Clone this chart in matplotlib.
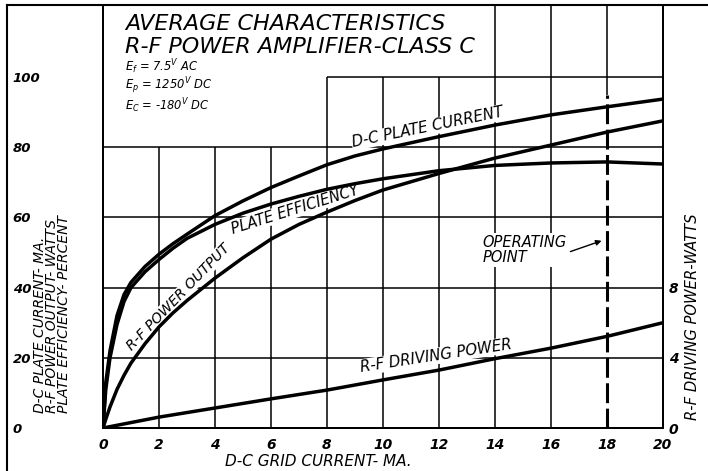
import matplotlib
matplotlib.use('Agg')
import matplotlib.pyplot as plt
from matplotlib.lines import Line2D
from matplotlib.transforms import ScaledTranslation

plt.rcParams['font.family'] = ['DejaVu Sans']
plt.rcParams['mathtext.fontset'] = 'dejavusans'

# grid current (mA) where curves were read
grid_ma = [0, 0.1, 0.25, 0.5, 0.75, 1, 1.5, 2, 2.5, 3, 4, 5, 6, 7, 8, 9, 10, 12, 14, 16, 18, 20]
plate_current = [0, 13, 22, 32, 38, 41.5, 46, 49.5, 52.5, 55.2, 60.5, 64.7, 68.5, 71.8, 75, 77.5,
                 79.5, 83, 86.3, 89.2, 91.5, 93.7]
plate_eff = [0, 11, 20, 29.5, 36, 40, 44.5, 48, 51.2, 54, 58, 61.2, 63.8, 66, 68, 69.6,
             71, 73.3, 74.8, 75.5, 75.8, 75.2]
power_out = [0, 2.5, 6, 11, 15, 18.5, 24, 28.8, 32.8, 36.3, 42.7, 48.5, 53.8, 58, 61.5, 64.8,
             67.8, 72.5, 76.9, 80.6, 84.3, 87.5]

drive_ma = [0, 2, 4, 6, 8, 10, 12, 14, 16, 18, 20]
drive_watts = [0, 0.62, 1.14, 1.66, 2.16, 2.74, 3.3, 3.95, 4.55, 5.22, 6.0]

operating_point = 18
x_ticks = list(range(0, 21, 2))
left_ticks = [0, 20, 40, 60, 80, 100]
right_ticks = [0, 4, 8]

W, H = 708, 471
fig = plt.figure(figsize=(W / 100, H / 100), dpi=100)
ax = fig.add_axes([103 / W, 1 - 428 / H, 560 / W, 423 / H])
ymax = 120.5
ax.set_xlim(0, 20)
ax.set_ylim(0, ymax)

# hand drawn grid, leaving the title block blank
glw = 1.1
ax.hlines([20, 40, 60, 80], 0, 20, color='black', lw=glw, zorder=1)
ax.hlines(100, 8, 20, color='black', lw=glw, zorder=1)
ax.vlines([2, 4, 6], 0, 80, color='black', lw=glw, zorder=1)
ax.vlines([8, 10, 12], 0, 100, color='black', lw=glw, zorder=1)
ax.vlines([14, 16], 0, ymax, color='black', lw=glw, zorder=1)
ax.vlines(operating_point, 95, ymax, color='black', lw=glw, zorder=1)

clw = 2.5
ax.plot(grid_ma, plate_current, color='black', lw=clw, zorder=3)
ax.plot(grid_ma, plate_eff, color='black', lw=clw, zorder=3)
ax.plot(grid_ma, power_out, color='black', lw=clw, zorder=3)
ax.plot([operating_point, operating_point], [0, 95], color='black', lw=2.2,
        linestyle=(0, (6.5, 1.8)), zorder=3)

for s in ax.spines.values():
    s.set_linewidth(1.4)

tfont = dict(style='italic', color='black')
ax.set_xticks(x_ticks)
ax.set_xticklabels([str(v) for v in x_ticks], fontsize=10, fontweight='bold', **tfont)
ax.set_yticks(left_ticks)
ax.set_yticklabels([str(v) for v in left_ticks], fontsize=9.5, fontweight='bold', **tfont)
ax.tick_params(axis='x', length=0, pad=7)
ax.tick_params(axis='y', length=0, pad=65)
for lab in ax.get_yticklabels():
    lab.set_horizontalalignment('left')

ax2 = ax.twinx()
ax2.set_ylim(0, ymax / 5)
ax2.plot(drive_ma, drive_watts, color='black', lw=clw, zorder=3)
ax2.set_yticks(right_ticks)
ax2.set_yticklabels([str(v) for v in right_ticks], fontsize=10, fontweight='bold', **tfont)
ax2.tick_params(axis='y', length=0, pad=4)
for s in ax2.spines.values():
    s.set_linewidth(1.4)

# title block
ax.text(0.8, 115.1, 'AVERAGE CHARACTERISTICS', fontsize=16, va='center', **tfont)
ax.text(0.8, 108.5, 'R-F POWER AMPLIFIER-CLASS C', fontsize=16, va='center', **tfont)
ax.text(0.8, 102.9, r'$E_f$ = 7.5$^V$ AC', fontsize=8.3, va='center', **tfont)
ax.text(0.8, 97.4, r'$E_p$ = 1250$^V$ DC', fontsize=8.3, va='center', **tfont)
ax.text(0.8, 91.9, r'$E_C$ = -180$^V$ DC', fontsize=8.3, va='center', **tfont)

box = dict(facecolor='white', edgecolor='none', pad=0.5)
ax.text(11.6, 85.6, 'D-C PLATE CURRENT', fontsize=10.8, rotation=11.5, ha='center', va='center',
        bbox=box, zorder=2, **tfont)
ax.text(6.85, 62.2, 'PLATE EFFICIENCY', fontsize=10.5, rotation=17.5, ha='center', va='center',
        bbox=box, zorder=2, **tfont)
ax.text(2.68, 37.2, 'R-F POWER OUTPUT', fontsize=10.2, rotation=46, ha='center', va='center',
        bbox=box, zorder=2, **tfont)
ax.text(11.9, 20.5, 'R-F DRIVING POWER', fontsize=10.8, rotation=8.7, ha='center', va='center',
        bbox=box, zorder=2, **tfont)

ax.text(13.55, 50.7, 'OPERATING\nPOINT', fontsize=10.5, ha='left', va='center', linespacing=1.05,
        bbox=dict(facecolor='white', edgecolor='none', pad=1), zorder=2, **tfont)
ax.annotate('', xy=(17.9, 53.6), xytext=(16.6, 50.0),
            arrowprops=dict(arrowstyle='-|>', color='black', lw=1, mutation_scale=8), zorder=4)

ax.text(-0.091, 0.035, 'D-C PLATE CURRENT- MA.\nR-F POWER OUTPUT- WATTS\nPLATE EFFICIENCY- PERCENT',
        transform=ax.transAxes, rotation=90, ha='center', va='bottom', fontsize=10,
        linespacing=0.78, multialignment='left', **tfont)
ax.text(1.053, 0.02, 'R-F DRIVING POWER-WATTS', transform=ax.transAxes, rotation=90,
        ha='center', va='bottom', fontsize=10.6, **tfont)
ax.text(7.7, 0, 'D-C GRID CURRENT- MA.', fontsize=11, ha='center', va='center',
        transform=ax.transData + ScaledTranslation(0, -33 / 100, fig.dpi_scale_trans), **tfont)

# outer drawing border
fig.add_artist(Line2D([7 / W, 7 / W], [0, 1 - 5 / H], color='black', lw=1.5))
fig.add_artist(Line2D([7 / W, 1], [1 - 5 / H, 1 - 5 / H], color='black', lw=1.5))

fig.savefig('out.png', dpi=100)
